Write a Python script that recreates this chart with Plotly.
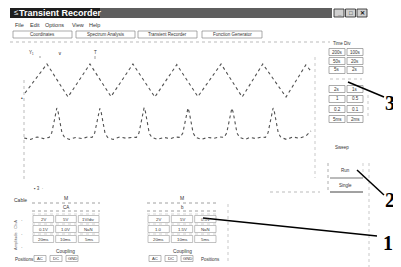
import plotly.graph_objects as go

# ---------------- data ----------------
tri_t = [0.07, 0.58, 1.07, 1.58, 2.07, 2.58, 3.09, 3.60, 4.09, 4.63, 5.12, 5.60, 6.14, 6.60, 6.72]
tri_v = [1.10, 2.55, 0.90, 2.55, 0.92, 2.55, 0.90, 2.52, 0.92, 2.55, 0.90, 2.55, 0.90, 2.50, 2.20]

pulse_t = [0.05, 0.20, 0.35, 0.50, 0.63, 0.69, 0.74, 0.78, 0.81, 0.84, 0.88, 0.93, 0.99, 1.10,
           1.25, 1.40, 1.52, 1.63, 1.69, 1.74, 1.78, 1.81, 1.84, 1.88, 1.93, 1.99, 2.12,
           2.27, 2.42, 2.55, 2.66, 2.72, 2.77, 2.81, 2.84, 2.87, 2.91, 2.96, 3.02, 3.15,
           3.30, 3.45, 3.57, 3.68, 3.74, 3.79, 3.83, 3.86, 3.89, 3.93, 3.98, 4.04, 4.17,
           4.32, 4.47, 4.60, 4.70, 4.76, 4.81, 4.85, 4.88, 4.91, 4.95, 5.00, 5.06, 5.19,
           5.30, 5.44, 5.56, 5.66, 5.72, 5.77, 5.81, 5.84, 5.87, 5.91, 5.96, 6.02, 6.15,
           6.30, 6.45, 6.60, 6.72]
pulse_v = [-1.15, -1.22, -1.10, -1.18, -1.12, -0.90, -0.40, 0.15, 0.35, 0.15, -0.40, -0.90, -1.12, -1.22,
           -1.12, -1.18, -1.10, -1.12, -0.90, -0.42, 0.13, 0.33, 0.15, -0.40, -0.90, -1.12, -1.22,
           -1.10, -1.16, -1.12, -1.12, -0.90, -0.38, 0.17, 0.37, 0.17, -0.40, -0.92, -1.12, -1.22,
           -1.12, -1.18, -1.10, -1.12, -0.90, -0.40, 0.15, 0.35, 0.13, -0.42, -0.90, -1.12, -1.22,
           -1.12, -1.16, -1.10, -1.12, -0.90, -0.40, 0.14, 0.34, 0.14, -0.40, -0.90, -1.12, -1.22,
           -1.12, -1.18, -1.10, -1.12, -0.90, -0.40, 0.15, 0.35, 0.15, -0.40, -0.90, -1.12, -1.22,
           -1.10, -1.16, -1.05, -0.80]

menu_items = ["File", "Edit", "Options", "View", "Help"]
tab_labels = ["Coordinates", "Spectrum Analysis", "Transient Recorder", "Function Generator"]
timediv_left = ["200s", "50s", "5s", "", "2s", "1", "0.2", "5ms"]
timediv_right = ["100s", "20s", "2s", "", "1s", "0.5", "0.1", "2ms"]
chan1_buttons = [["2V", "5V", "1V/div"], ["0.1V", "1.0V", "NaN"], ["20ms", "10ms", "5ms"]]
chan2_buttons = [["2V", "5V", "0.5V"], ["1.0", "1.5V", "NaN"], ["20ms", "10ms", "5ms"]]
coupling = ["AC", "DC", "GND"]
callouts = ["1", "2", "3"]

# the page body has an 8px margin, so the figure is drawn from (8, 8)
OFF = 8
W, H = 401 - OFF, 267 - OFF
def X(p): return (p - OFF) / W
def Y(p): return 1 - (p - OFF) / H

fig = go.Figure()
fig.add_trace(go.Scatter(x=tri_t, y=tri_v, mode="lines",
                         line=dict(color="#505050", width=1.1, dash="dot"), hoverinfo="skip"))
fig.add_trace(go.Scatter(x=pulse_t, y=pulse_v, mode="lines",
                         line=dict(color="#505050", width=1.1, dash="dot"), hoverinfo="skip"))

shapes, ann = [], []
def rect(x0, y0, x1, y1, color="#888", width=0.8, fill="rgba(0,0,0,0)", dash="solid"):
    shapes.append(dict(type="rect", xref="paper", yref="paper", x0=X(x0), x1=X(x1),
                       y0=Y(y1), y1=Y(y0), line=dict(color=color, width=width, dash=dash),
                       fillcolor=fill, layer="below"))
def line(x0, y0, x1, y1, color="#999", width=0.8, dash="solid"):
    shapes.append(dict(type="line", xref="paper", yref="paper", x0=X(x0), x1=X(x1),
                       y0=Y(y0), y1=Y(y1), line=dict(color=color, width=width, dash=dash)))
def text(x, y, s, size=5, color="#333", xa="center", family="Liberation Sans", textangle=0):
    ann.append(dict(xref="paper", yref="paper", x=X(x), y=Y(y), text=s, showarrow=False,
                    xanchor=xa, yanchor="middle", textangle=textangle,
                    font=dict(size=size, color=color, family=family)))

# title bar
rect(10, 8, 100, 18, color="#1e1e1e", width=0, fill="#1e1e1e")
rect(100, 8, 332, 18, color="#5e5e5e", width=0, fill="#5e5e5e")
text(12, 13, "≤", 8, "#fff", "left")
text(17, 13, "<b>Transient Recorder</b>", 9, "#ffffff", "left")
for i, g in enumerate(["_", "□", "✕"]):
    bx = 334 + i * 11.5
    rect(bx, 9, bx + 10, 17, color="#222", width=0.8, fill="#d0d0d0")
    text(bx + 5, 13, "<b>" + g + "</b>", 6, "#111")

# menu bar
for xm, s in zip([13, 28, 43, 70, 87], menu_items):
    text(xm, 25, s, 5.5, "#333", "left")

# tab buttons
for (x0, x1), s in zip([(13, 72), (76, 135), (138, 197), (202, 262)], tab_labels):
    rect(x0, 31, x1, 38, color="#888", width=0.7)
    text((x0 + x1) / 2, 34.5, s, 4.5, "#333")
line(10, 42, 330, 42, "#aaa", 0.8, "dot")

# Time Div panel
text(342, 44, "Time Div", 4.5, "#333")
rows = [52, 61, 70, 79, 89, 99, 109, 119]
for r, a, b in zip(rows, timediv_left, timediv_right):
    if a:
        rect(329, r - 3.5, 345, r + 3.5, "#888", 0.7)
        rect(347, r - 3.5, 363, r + 3.5, "#888", 0.7)
        text(337, r, a, 4.5)
        text(355, r, b, 4.5)
    else:
        line(330, r, 362, r, "#aaa", 0.7, "dot")
line(368, 95, 368, 118, "#bbb", 0.8, "dot")

# plot decorations
text(31, 53, "Y₁", 4.5, "#333")
text(60, 54, "∨", 4.5, "#333")
text(95, 52, "T", 4.5, "#333")
line(40, 56, 40, 58, "#777", 0.7)
line(95, 56, 95, 59, "#777", 0.7)
line(24, 80, 24, 182, "#aaa", 0.8, "dot")
line(315, 57, 315, 178, "#bbb", 0.8, "dot")
text(22, 98, "•", 5, "#333")
text(38, 188, "▪ 3  ·", 4.5, "#444")
line(270, 192, 320, 192, "#aaa", 0.8, "dot")

# Sweep panel
text(342, 147, "Sweep", 4.5)
line(328, 163, 328, 192, "#999", 0.8, "dot")
line(330, 178, 363, 178, "#666", 0.9)
line(330, 192, 363, 192, "#444", 1.0)
line(363, 163, 363, 178, "#bbb", 0.7, "dot")
text(345, 170, "Run", 4.5)
text(345, 185, "Single", 4.5)
line(369, 163, 369, 267, "#bbb", 0.8, "dot")
line(228, 204, 228, 262, "#bbb", 0.8, "dot")

# channel panels
text(20, 200, "Cable", 5, "#333")
text(15, 235, "Amplitude · Ch A", 4, "#666", textangle=-90)
for yy in [220, 234, 247]:
    text(22, yy, "·", 5, "#444")
text(24, 259, "Positions", 4.5, "#333")
def channel(x0, x1, head, sub, btns):
    cx = (x0 + x1) / 2
    text(cx, 198, head, 5)
    line(x0, 203, x1, 203, "#888", 0.8, "dot")
    text(cx, 207, sub, 4.5)
    line(x0, 211, x1, 211, "#888", 0.8, "dot")
    w = (x1 - x0) / 3
    for ri, ry in enumerate([219, 229, 239]):
        line(x0, ry - 5, x1, ry - 5, "#bbb", 0.6, "dot")
        for ci in range(3):
            bx0 = x0 + ci * w + 1
            rect(bx0, ry - 3.5, bx0 + w - 2, ry + 3.5, "#999", 0.6)
            text(bx0 + (w - 2) / 2, ry, btns[ri][ci], 4.3)
    text(cx, 251, "Coupling", 4.8)
    for ci, s in enumerate(coupling):
        bx = x0 + 8 + ci * 16
        rect(bx - 6, 255.5, bx + 6, 261.5, "#888", 0.6)
        text(bx, 258.5, s, 4.2)
channel(32, 100, "M", "CA", chan1_buttons)
channel(147, 217, "M", "b", chan2_buttons)
text(210, 259, "Positions", 4.5, "#333")

# callouts
line(348, 82, 384, 97, "#000", 1.5)
line(357, 170, 384, 195, "#000", 1.5)
line(203, 218, 377, 236, "#000", 1.5)
text(390, 103, "<b>" + callouts[2] + "</b>", 20, "#000", family="Liberation Serif")
text(390, 200, "<b>" + callouts[1] + "</b>", 20, "#000", family="Liberation Serif")
text(388, 243, "<b>" + callouts[0] + "</b>", 20, "#000", family="Liberation Serif")

fig.update_layout(
    width=W, height=H, margin=dict(l=0, r=0, t=0, b=0),
    paper_bgcolor="white", plot_bgcolor="rgba(0,0,0,0)", showlegend=False,
    xaxis=dict(domain=[X(22), X(315)], range=[0, 293 / 43], visible=False, fixedrange=True),
    yaxis=dict(domain=[Y(175), Y(55)], range=[-3, 3], visible=False, fixedrange=True),
    shapes=shapes, annotations=ann,
)
fig.write_html("out.html")
